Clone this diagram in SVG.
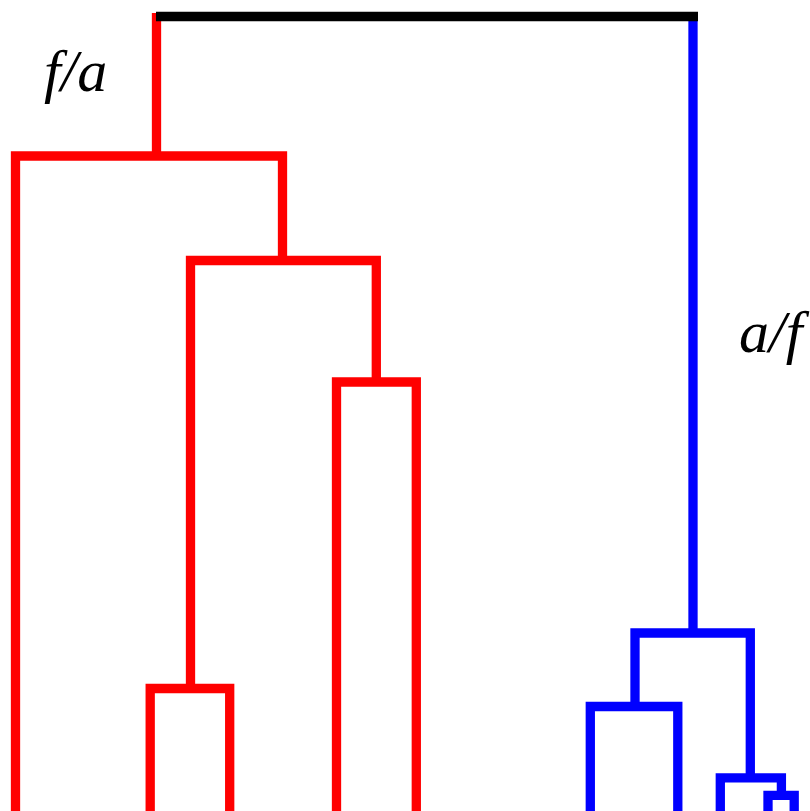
<svg xmlns="http://www.w3.org/2000/svg" width="810" height="811" viewBox="0 0 810 811">
<style>
.l{fill:none;stroke-width:9.3;stroke-linejoin:miter;stroke-linecap:butt}
.r{stroke:#ff0000}
.b{stroke:#0000ff}
.k{stroke:#000000}
.t{font-family:"Liberation Serif","Times New Roman",serif;font-style:italic;font-size:60px;fill:#000}
</style>
<rect width="810" height="811" fill="#ffffff"/>
<g id="connectors">
<path class="l r" d="M156.5 13 V156"/>
<path class="l b" d="M693 16 V633"/>
<path class="l k" d="M156 16.5 H698"/>
<path class="l r" d="M15.5 811 V156 H282.5 V260.5"/>
<path class="l r" d="M190.5 688.5 V260.5 H376.3 V382"/>
<path class="l r" d="M336.5 811 V382 H416.3 V811"/>
<path class="l r" d="M150.2 811 V688.5 H229.7 V811"/>
<path class="l b" d="M635 706.5 V633 H750.3 V777.8"/>
<path class="l b" d="M590.3 811 V706.5 H677.8 V811"/>
<path class="l b" d="M720.3 811 V777.8 H781.4 V795.4"/>
<path class="l b" d="M768 811 V795.4 H794.2 V811"/>
</g>
<g id="label-fa"><text class="t" x="44" y="91">f/a</text></g>
<g id="label-af"><text class="t" x="739" y="352">a/f</text></g>
</svg>
